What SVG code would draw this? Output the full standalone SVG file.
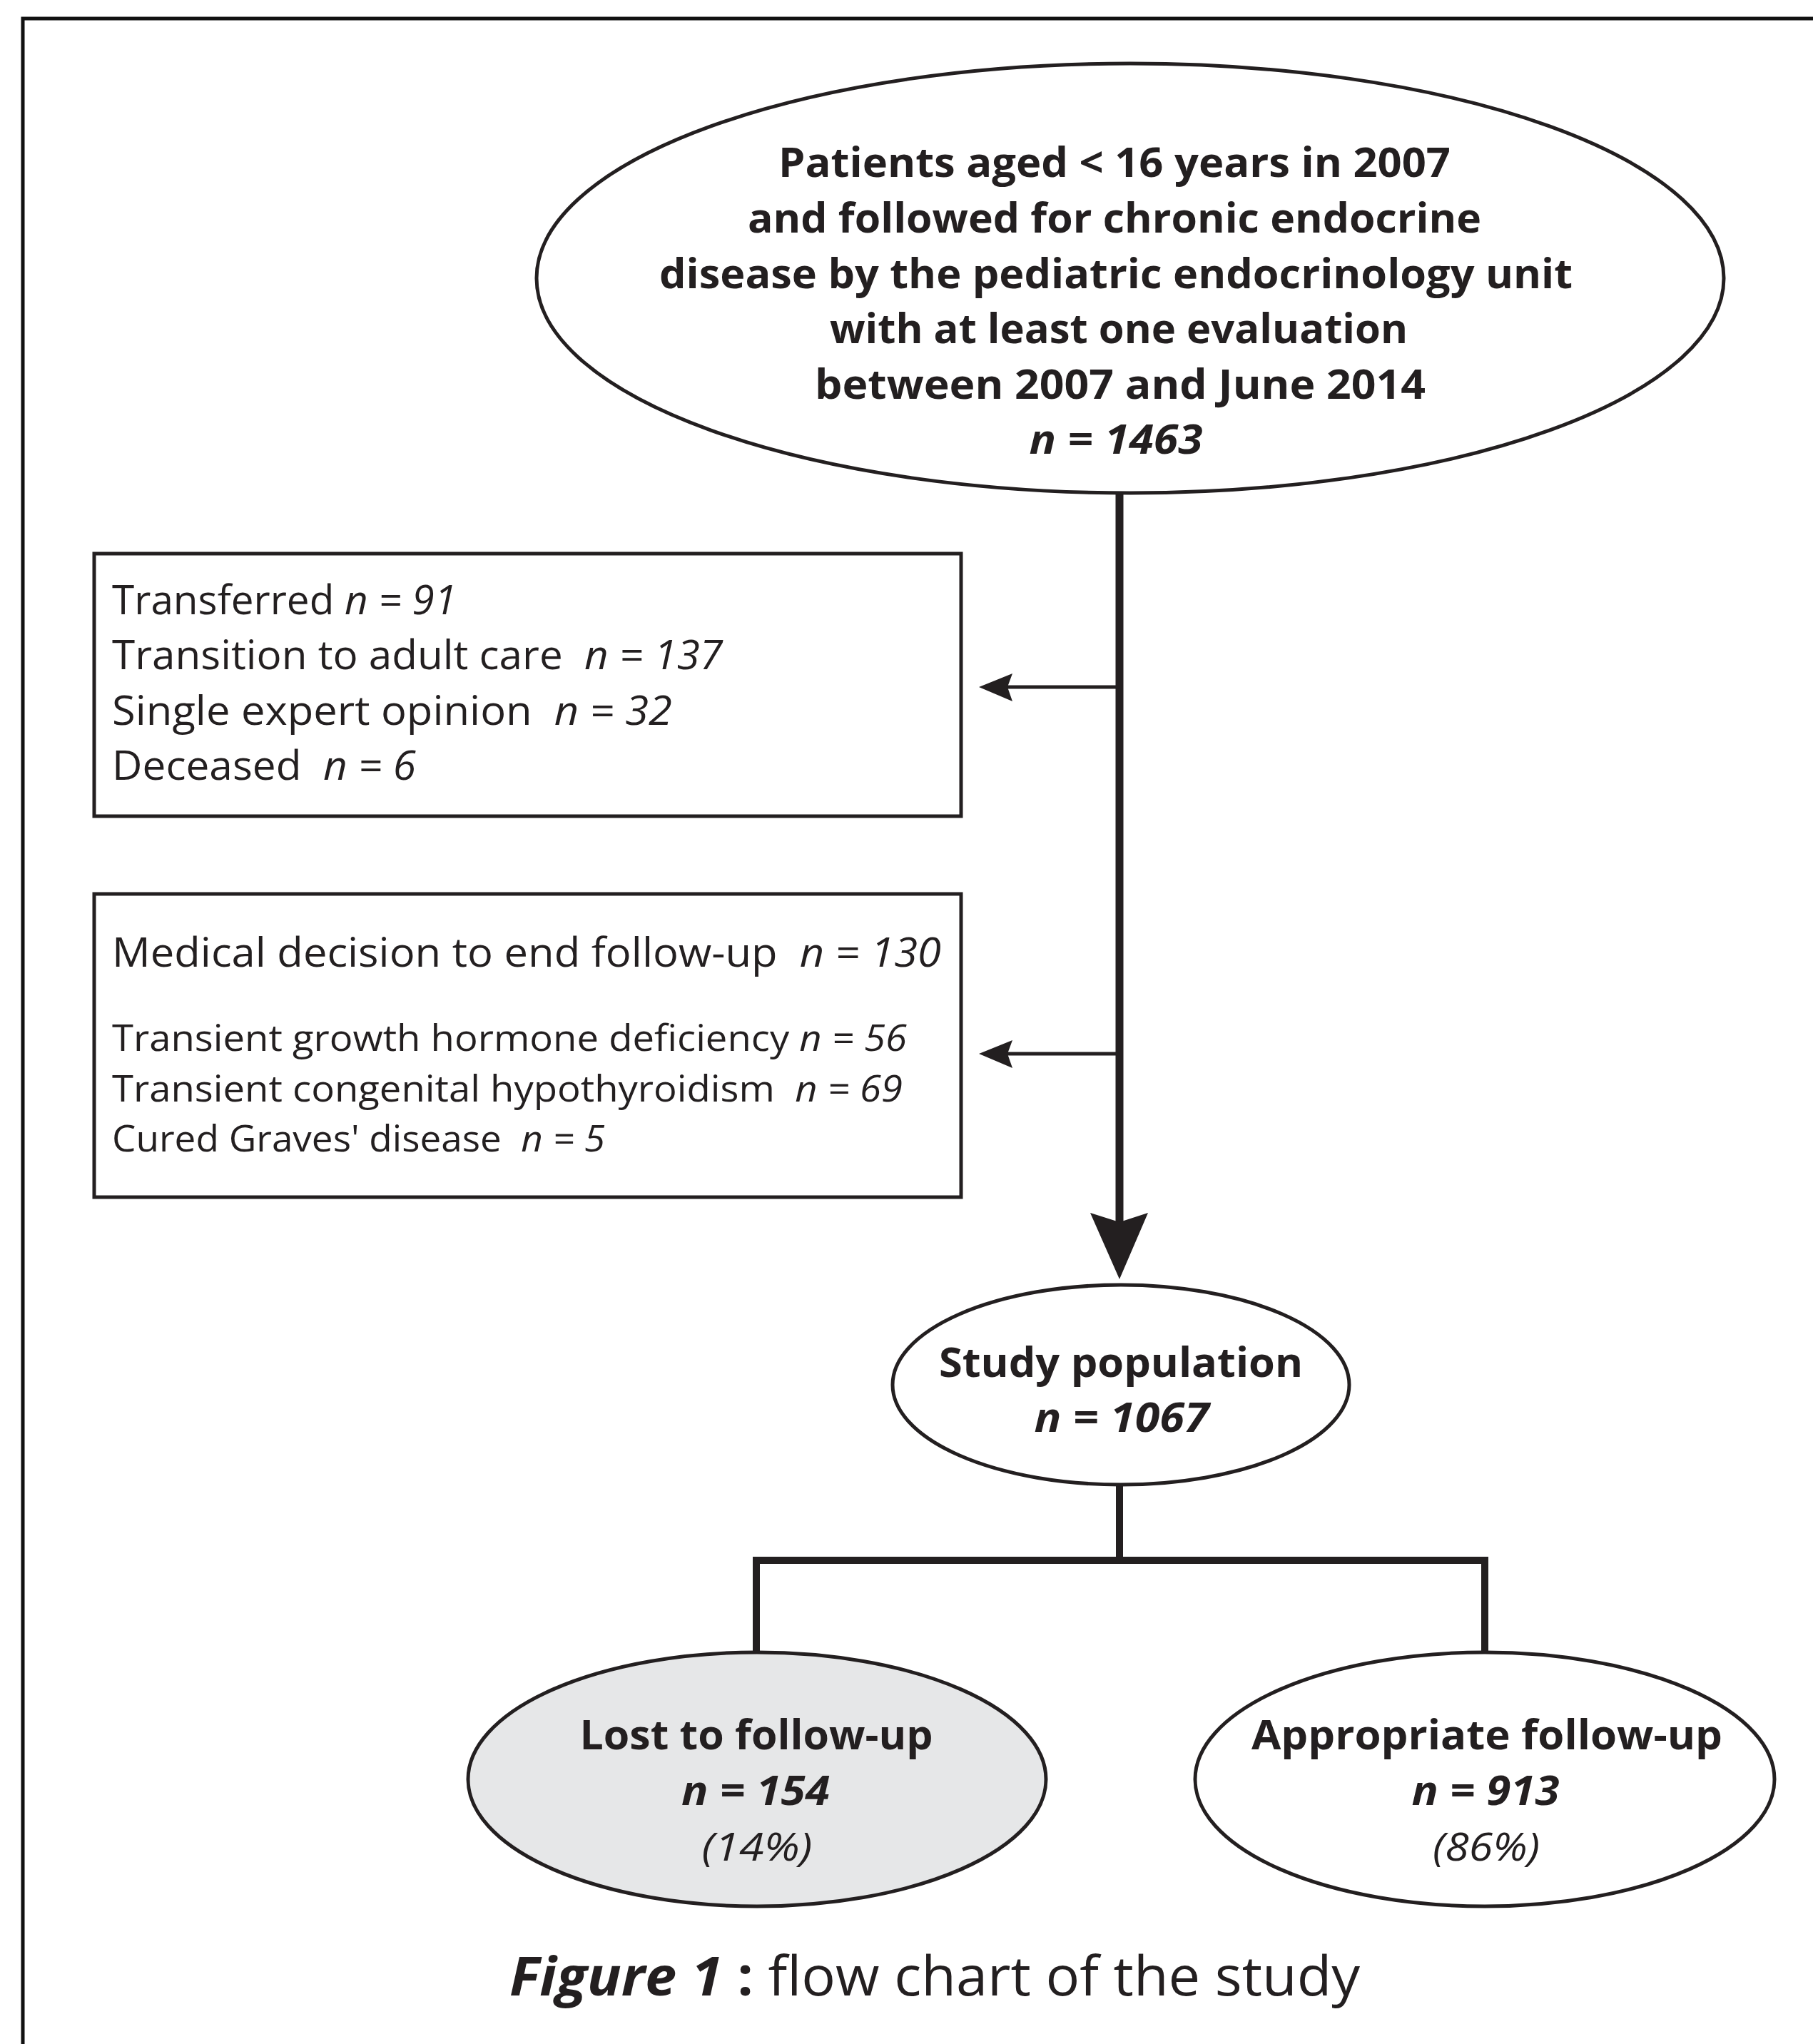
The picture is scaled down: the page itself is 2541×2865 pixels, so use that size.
<svg xmlns="http://www.w3.org/2000/svg" width="2541" height="2865" viewBox="0 0 2541 2865">
<style>
text{font-family:"Open Sans","Liberation Sans",sans-serif;fill:#231f20}
.b{font-weight:700;font-size:58px;text-anchor:middle}
.r{font-size:57px}
.s{font-size:52px}
.i{font-style:italic}
.p{font-size:54px;font-style:italic;text-anchor:middle}
.node{stroke:#231f20;stroke-width:5;fill:#fff}
.grey{fill:#e6e7e8}
.ln{stroke:#231f20;fill:none}
</style>
<rect x="0" y="0" width="2541" height="2865" fill="#fff"/>
<rect x="32" y="26" width="2600" height="2950" fill="none" stroke="#111" stroke-width="5"/>

<g id="connectors">
<line class="ln" x1="1569" y1="690" x2="1569" y2="1715" stroke-width="11"/>
<polygon points="1569,1793 1528,1700 1569,1713 1609,1700" fill="#231f20"/>
<line class="ln" x1="1569" y1="963" x2="1412" y2="963" stroke-width="5"/>
<polygon points="1372,963 1419,944 1412,963 1419,983" fill="#231f20"/>
<line class="ln" x1="1569" y1="1477" x2="1412" y2="1477" stroke-width="5"/>
<polygon points="1372,1477 1419,1458 1412,1477 1419,1497" fill="#231f20"/>
<line class="ln" x1="1569" y1="2080" x2="1569" y2="2187" stroke-width="10"/>
<polyline class="ln" points="1060,2318 1060,2187 2081,2187 2081,2318" stroke-width="10" stroke-linejoin="miter" stroke-linecap="square"/>
</g>

<g id="node-start">
<ellipse class="node" cx="1584" cy="390" rx="832" ry="301"/>
<text class="b" x="1562" y="248" textLength="942" lengthAdjust="spacingAndGlyphs">Patients aged &lt; 16 years in 2007</text>
<text class="b" x="1562" y="326" textLength="1028" lengthAdjust="spacingAndGlyphs">and followed for chronic endocrine</text>
<text class="b" x="1564" y="404" textLength="1280" lengthAdjust="spacingAndGlyphs">disease by the pediatric endocrinology unit</text>
<text class="b" x="1568" y="481" textLength="810" lengthAdjust="spacingAndGlyphs">with at least one evaluation</text>
<text class="b" x="1570" y="559" textLength="856" lengthAdjust="spacingAndGlyphs">between 2007 and June 2014</text>
<text class="b i" x="1564" y="636" textLength="243" lengthAdjust="spacingAndGlyphs">n = 1463</text>
</g>

<g id="node-excluded1">
<rect class="node" x="132" y="776" width="1215" height="368" stroke-width="4.5"/>
<text class="r" x="157" y="861" textLength="483" lengthAdjust="spacingAndGlyphs">Transferred <tspan class="i">n = 91</tspan></text>
<text class="r" x="157" y="938" textLength="856" lengthAdjust="spacingAndGlyphs">Transition to adult care&#160; <tspan class="i">n = 137</tspan></text>
<text class="r" x="157" y="1016" textLength="785" lengthAdjust="spacingAndGlyphs">Single expert opinion&#160; <tspan class="i">n = 32</tspan></text>
<text class="r" x="157" y="1093" textLength="426" lengthAdjust="spacingAndGlyphs">Deceased&#160; <tspan class="i">n = 6</tspan></text>
</g>

<g id="node-excluded2">
<rect class="node" x="132" y="1253" width="1215" height="425" stroke-width="4.5"/>
<text class="r" x="157" y="1355" textLength="1162" lengthAdjust="spacingAndGlyphs">Medical decision to end follow-up&#160; <tspan class="i">n = 130</tspan></text>
<text class="s" x="157" y="1473" textLength="1114" lengthAdjust="spacingAndGlyphs">Transient growth hormone deficiency <tspan class="i">n = 56</tspan></text>
<text class="s" x="157" y="1544" textLength="1108" lengthAdjust="spacingAndGlyphs">Transient congenital hypothyroidism&#160; <tspan class="i">n = 69</tspan></text>
<text class="s" x="157" y="1614" textLength="691" lengthAdjust="spacingAndGlyphs">Cured Graves' disease&#160; <tspan class="i">n = 5</tspan></text>
</g>

<g id="node-study">
<ellipse class="node" cx="1571" cy="1941" rx="320" ry="140"/>
<text class="b" x="1571" y="1930" textLength="510" lengthAdjust="spacingAndGlyphs">Study population</text>
<text class="b i" x="1572" y="2007" textLength="245" lengthAdjust="spacingAndGlyphs">n = 1067</text>
</g>

<g id="node-lost">
<ellipse class="node grey" cx="1061" cy="2494" rx="405" ry="178"/>
<text class="b" x="1060" y="2452" textLength="495" lengthAdjust="spacingAndGlyphs">Lost to follow-up</text>
<text class="b i" x="1059" y="2530" textLength="208" lengthAdjust="spacingAndGlyphs">n = 154</text>
<text class="p" x="1061" y="2608" textLength="155" lengthAdjust="spacingAndGlyphs">(14%)</text>
</g>

<g id="node-appropriate">
<ellipse class="node" cx="2081" cy="2494" rx="406" ry="178"/>
<text class="b" x="2084" y="2452" textLength="660" lengthAdjust="spacingAndGlyphs">Appropriate follow-up</text>
<text class="b i" x="2082" y="2530" textLength="207" lengthAdjust="spacingAndGlyphs">n = 913</text>
<text class="p" x="2083" y="2608" textLength="150" lengthAdjust="spacingAndGlyphs">(86%)</text>
</g>

<g id="caption">
<text x="714" y="2797" font-size="76" textLength="1192" lengthAdjust="spacingAndGlyphs"><tspan font-weight="700" font-style="italic">Figure 1</tspan><tspan font-weight="700"> :</tspan> flow chart of the study</text>
</g>
</svg>
